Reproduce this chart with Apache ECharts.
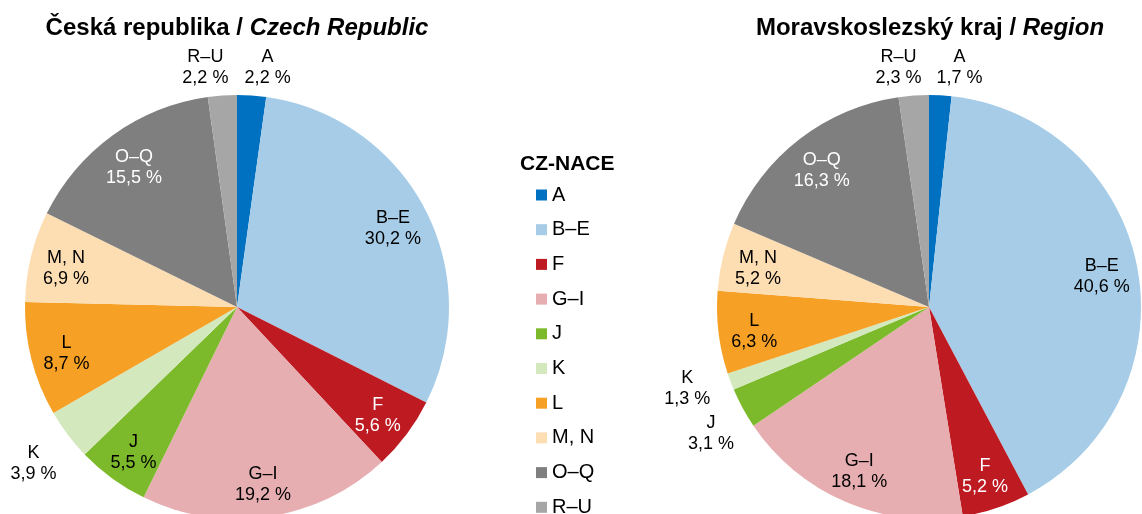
<!DOCTYPE html>
<html>
<head>
<meta charset="utf-8">
<script src="https://cdn.jsdelivr.net/npm/echarts@6/dist/echarts.min.js"></script>
<style>
  html, body { margin: 0; padding: 0; background: #fff; }
  #chart { width: 1142px; height: 514px; }
</style>
</head>
<body>
<div id="chart"></div>
<script>
// ---- data ----
const categories = ['A', 'B–E', 'F', 'G–I', 'J', 'K', 'L', 'M, N', 'O–Q', 'R–U'];
const czValues = [2.2, 30.2, 5.6, 19.2, 5.5, 3.9, 8.7, 6.9, 15.5, 2.2];
const regionValues = [1.7, 40.6, 5.2, 18.1, 3.1, 1.3, 6.3, 5.2, 16.3, 2.3];
const czOutside = ['A', 'K', 'R–U'];
const regionOutside = ['A', 'J', 'K', 'R–U'];
const legendTitle = 'CZ-NACE';
const titleCz = ['Česká republika / ', 'Czech Republic'];
const titleRegion = ['Moravskoslezský kraj / ', 'Region'];

// ---- styles ----
const palette = ['#0070C0', '#A6CCE7', '#BE1A22', '#E6AEB1', '#7DBA2B', '#D3E8BC', '#F6A126', '#FDDDB2', '#7F7F7F', '#A6A6A6'];
const whiteLabels = ['F', 'O–Q'];
const FONT = "'Liberation Sans', Arial, sans-serif";
const R = 212;
const centers = [[237, 307], [929, 307]];
// small label nudges for outside labels (Excel-like placement)
const nudges = [
  { 'A': [13, 15], 'R–U': [-14, 15] },
  { 'A': [17, 15], 'R–U': [-12, 15], 'J': [6, 5], 'K': [-3, -8] }
];

function fmt(v) { return v.toFixed(1).replace('.', ',') + ' %'; }

function mainPie(values, center) {
  return {
    type: 'pie', radius: [0, R], center: center, clockwise: true, startAngle: 90,
    silent: true, label: { show: false }, labelLine: { show: false },
    itemStyle: { borderWidth: 0 },
    data: categories.map((c, i) => ({ name: c, value: values[i], itemStyle: { color: palette[i] } }))
  };
}

function labelPie(values, center, radius, showFn, nudge) {
  return {
    type: 'pie', radius: radius, center: center, clockwise: true, startAngle: 90,
    silent: true, avoidLabelOverlap: false, labelLine: { show: false },
    itemStyle: { color: 'rgba(0,0,0,0)', borderWidth: 0 },
    emphasis: { disabled: true },
    labelLayout: function (p) {
      const name = categories[p.dataIndex];
      const n = nudge ? nudge[name] : null;
      return n ? { dx: n[0], dy: n[1] } : { dy: 3 };
    },
    data: categories.map((c, i) => ({
      name: c, value: values[i],
      itemStyle: { color: 'rgba(0,0,0,0)' },
      label: {
        show: showFn(c), position: 'inside',
        color: whiteLabels.includes(c) ? '#ffffff' : '#000000',
        fontFamily: FONT, fontSize: 18, lineHeight: 21,
        formatter: p => p.name + '\n' + fmt(p.value)
      }
    }))
  };
}

const chart = echarts.init(document.getElementById('chart'), null, { renderer: 'canvas' });
const titleRich = {
  a: { fontFamily: FONT, fontSize: 24, fontWeight: 'bold', color: '#000' },
  b: { fontFamily: FONT, fontSize: 24, fontWeight: 'bold', fontStyle: 'italic', color: '#000' }
};
chart.setOption({
  animation: false,
  backgroundColor: '#ffffff',
  title: [
    { text: '{a|' + titleCz[0] + '}{b|' + titleCz[1] + '}', left: centers[0][0] - 5, top: 11, textAlign: 'center', textStyle: { rich: titleRich } },
    { text: '{a|' + titleRegion[0] + '}{b|' + titleRegion[1] + '}', left: centers[1][0] - 4, top: 11, textAlign: 'center', textStyle: { rich: titleRich } },
    { text: legendTitle, left: 515, top: 149, textStyle: { fontFamily: FONT, fontSize: 21, fontWeight: 'bold', color: '#000' } }
  ],
  legend: {
    orient: 'vertical', left: 536, top: 185, height: 380, padding: 0,
    icon: 'rect', itemWidth: 11, itemHeight: 11, itemGap: 14.7,
    selectedMode: false,
    textStyle: { fontFamily: FONT, fontSize: 20, lineHeight: 20, color: '#000' },
    data: categories
  },
  series: [
    mainPie(czValues, centers[0]),
    mainPie(regionValues, centers[1]),
    labelPie(czValues, centers[0], [134, R], c => !czOutside.includes(c)),
    labelPie(regionValues, centers[1], [134, R], c => !regionOutside.includes(c)),
    labelPie(czValues, centers[0], [R, 292], c => czOutside.includes(c), nudges[0]),
    labelPie(regionValues, centers[1], [R, 292], c => regionOutside.includes(c), nudges[1])
  ]
});
</script>
</body>
</html>
